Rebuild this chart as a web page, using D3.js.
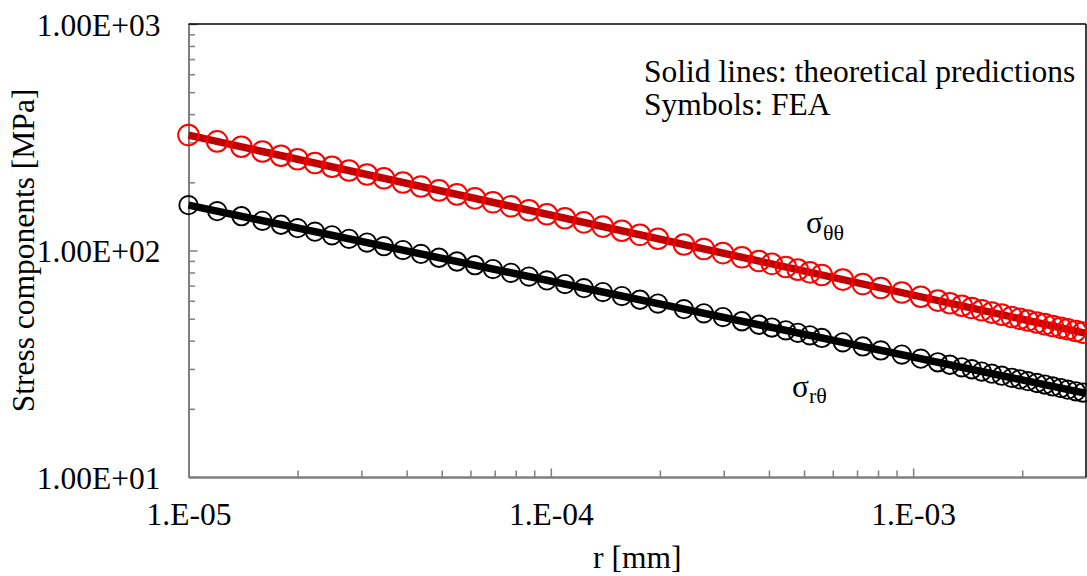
<!DOCTYPE html>
<html><head><meta charset="utf-8">
<script src="https://cdn.jsdelivr.net/npm/d3@7"></script>
<style>
body{margin:0;background:#fff}
svg{display:block}
text{font-family:"Liberation Serif","Times New Roman",Times,serif;fill:#000}
</style>
</head><body>
<svg id="chart" width="1087" height="576"></svg>
<script>
// ---- data ----
const rFEA = [1.00e-5,1.20e-5,1.40e-5,1.60e-5,1.80e-5,2.00e-5,2.234e-5,2.489e-5,2.773e-5,3.109e-5,
  3.463e-5,3.907e-5,4.381e-5,4.912e-5,5.508e-5,6.174e-5,6.922e-5,7.762e-5,8.702e-5,9.755e-5,
  1.094e-4,1.234e-4,1.392e-4,1.571e-4,1.762e-4,1.975e-4,2.330e-4,2.645e-4,2.985e-4,3.368e-4,
  3.752e-4,4.074e-4,4.453e-4,4.806e-4,5.187e-4,5.598e-4,6.397e-4,7.263e-4,8.144e-4,9.307e-4,
  1.050e-3,1.170e-3,1.263e-3,1.363e-3,1.452e-3,1.547e-3,1.649e-3,1.757e-3,1.872e-3,1.970e-3,
  2.073e-3,2.194e-3,2.309e-3,2.429e-3,2.556e-3,2.673e-3,2.812e-3,2.940e-3];
const sigmaThetaThetaFEA = [323.3,303.1,287.2,273.5,262.1,252.8,243.3,234.2,225.5,216.5,
  208.4,199.7,191.8,184.2,176.9,169.9,163.2,156.7,150.5,144.6,
  138.8,133.1,127.5,122.2,117.3,112.7,106.3,101.6,97.4,93.3,
  89.9,87.3,84.6,82.3,80.1,78.0,74.4,71.1,68.3,65.2,
  62.5,60.1,58.5,57.0,55.7,54.5,53.2,52.1,50.9,50.0,
  49.1,48.1,47.3,46.4,45.6,44.9,44.1,43.4];
const sigmaRThetaFEA = [158.5,149.2,141.7,135.2,129.9,125.5,121.1,116.7,112.6,108.4,
  104.5,100.4,96.6,92.9,89.4,86.1,82.8,79.7,76.7,73.8,
  71.1,68.2,65.5,62.9,60.6,58.3,55.1,52.8,50.8,48.7,
  47.0,45.7,44.4,43.3,42.2,41.1,39.3,37.7,36.2,34.7,
  33.3,32.1,31.3,30.5,29.9,29.2,28.6,28.0,27.4,27.0,
  26.5,26.0,25.6,25.1,24.7,24.3,23.9,23.6];
const rTheory = [1e-5, 3e-3];
const sigmaThetaThetaTheory = [323.3, 43.1];
const sigmaRThetaTheory = [158.5, 23.4];
const xTickValues = [1e-5, 1e-4, 1e-3];
const xTickLabels = ["1.E-05", "1.E-04", "1.E-03"];
const yTickValues = [10, 100, 1000];
const yTickLabels = ["1.00E+01", "1.00E+02", "1.00E+03"];
const xMinorTicks = [2e-5,3e-5,4e-5,5e-5,6e-5,7e-5,8e-5,9e-5,2e-4,3e-4,4e-4,5e-4,6e-4,7e-4,8e-4,9e-4,2e-3];
const yMinorTicks = [20,30,40,50,60,70,80,90,200,300,400,500,600,700,800,900];

// ---- layout ----
const L = 188.5, R = 1086, T = 24, B = 477;
const svg = d3.select("#chart");
const x = d3.scaleLog().domain([1e-5, 3e-3]).range([L, R]);
const y = d3.scaleLog().domain([10, 1000]).range([B, T]);
const FS = 31.5;
const gray = "#7f7f7f";

// minor ticks
const gx = svg.append("g").attr("transform", `translate(0,${B})`);
gx.call(d3.axisBottom(x).tickValues(xMinorTicks).tickSize(-6.5).tickSizeOuter(0).tickFormat(""));
const gxM = svg.append("g").attr("transform", `translate(0,${B})`);
gxM.call(d3.axisBottom(x).tickValues(xTickValues).tickSize(-8.5).tickSizeOuter(0)
  .tickPadding(26).tickFormat((d, i) => xTickLabels[i]));
const gy = svg.append("g").attr("transform", `translate(${L},0)`);
gy.call(d3.axisLeft(y).tickValues(yMinorTicks).tickSize(-6.5).tickSizeOuter(0).tickFormat(""));
const gyM = svg.append("g").attr("transform", `translate(${L},0)`);
gyM.call(d3.axisLeft(y).tickValues(yTickValues).tickSize(-9).tickSizeOuter(0)
  .tickPadding(28).tickFormat((d, i) => yTickLabels[i]));

svg.selectAll(".domain").attr("stroke", gray).attr("stroke-width", 2);
svg.selectAll(".tick line").attr("stroke", gray).attr("stroke-width", 1.5);
svg.selectAll(".tick text").attr("font-size", FS).attr("font-family", '"Liberation Serif","Times New Roman",serif').attr("fill", "#000");
gyM.selectAll(".tick text").attr("dy", "0.36em");

// top & right border
svg.append("line").attr("x1", L).attr("x2", R).attr("y1", T).attr("y2", T).attr("stroke", "#000").attr("stroke-width", 1.5);
svg.append("line").attr("x1", R).attr("x2", R).attr("y1", T).attr("y2", B).attr("stroke", "#000").attr("stroke-width", 1.5);

// theory lines
const line = d3.line().x(d => x(d[0])).y(d => y(d[1]));
svg.append("path").datum(rTheory.map((r, i) => [r, sigmaThetaThetaTheory[i]]))
  .attr("d", line).attr("fill", "none").attr("stroke", "#c00000").attr("stroke-width", 7.5);
svg.append("path").datum(rTheory.map((r, i) => [r, sigmaRThetaTheory[i]]))
  .attr("d", line).attr("fill", "none").attr("stroke", "#000").attr("stroke-width", 7.5);

// FEA symbols
svg.append("g").selectAll("circle").data(rFEA.map((r, i) => [r, sigmaThetaThetaFEA[i]])).join("circle")
  .attr("cx", d => x(d[0])).attr("cy", d => y(d[1])).attr("r", 10.3)
  .attr("fill", "none").attr("stroke", "#ff0000").attr("stroke-width", 2);
svg.append("g").selectAll("circle").data(rFEA.map((r, i) => [r, sigmaRThetaFEA[i]])).join("circle")
  .attr("cx", d => x(d[0])).attr("cy", d => y(d[1])).attr("r", 9.2)
  .attr("fill", "none").attr("stroke", "#000").attr("stroke-width", 1.9);

// axis titles
svg.append("text").attr("x", (L + R) / 2).attr("y", 568).attr("text-anchor", "middle")
  .attr("font-size", FS).text("r [mm]");
svg.append("text").attr("transform", `translate(34,${(T + B) / 2}) rotate(-90)`).attr("text-anchor", "middle")
  .attr("font-size", FS).text("Stress components [MPa]");

// annotation
svg.append("text").attr("x", 644).attr("y", 82).attr("font-size", FS).text("Solid lines: theoretical predictions");
svg.append("text").attr("x", 644).attr("y", 115).attr("font-size", FS).text("Symbols: FEA");

// series labels
const l1 = svg.append("text").attr("x", 806).attr("y", 233).attr("font-size", FS);
l1.append("tspan").text("σ");
l1.append("tspan").attr("font-size", 22).attr("dy", 7).text("θθ");
const l2 = svg.append("text").attr("x", 792).attr("y", 397).attr("font-size", FS);
l2.append("tspan").text("σ");
l2.append("tspan").attr("font-size", 22).attr("dy", 6).text("rθ");
</script>
</body></html>
